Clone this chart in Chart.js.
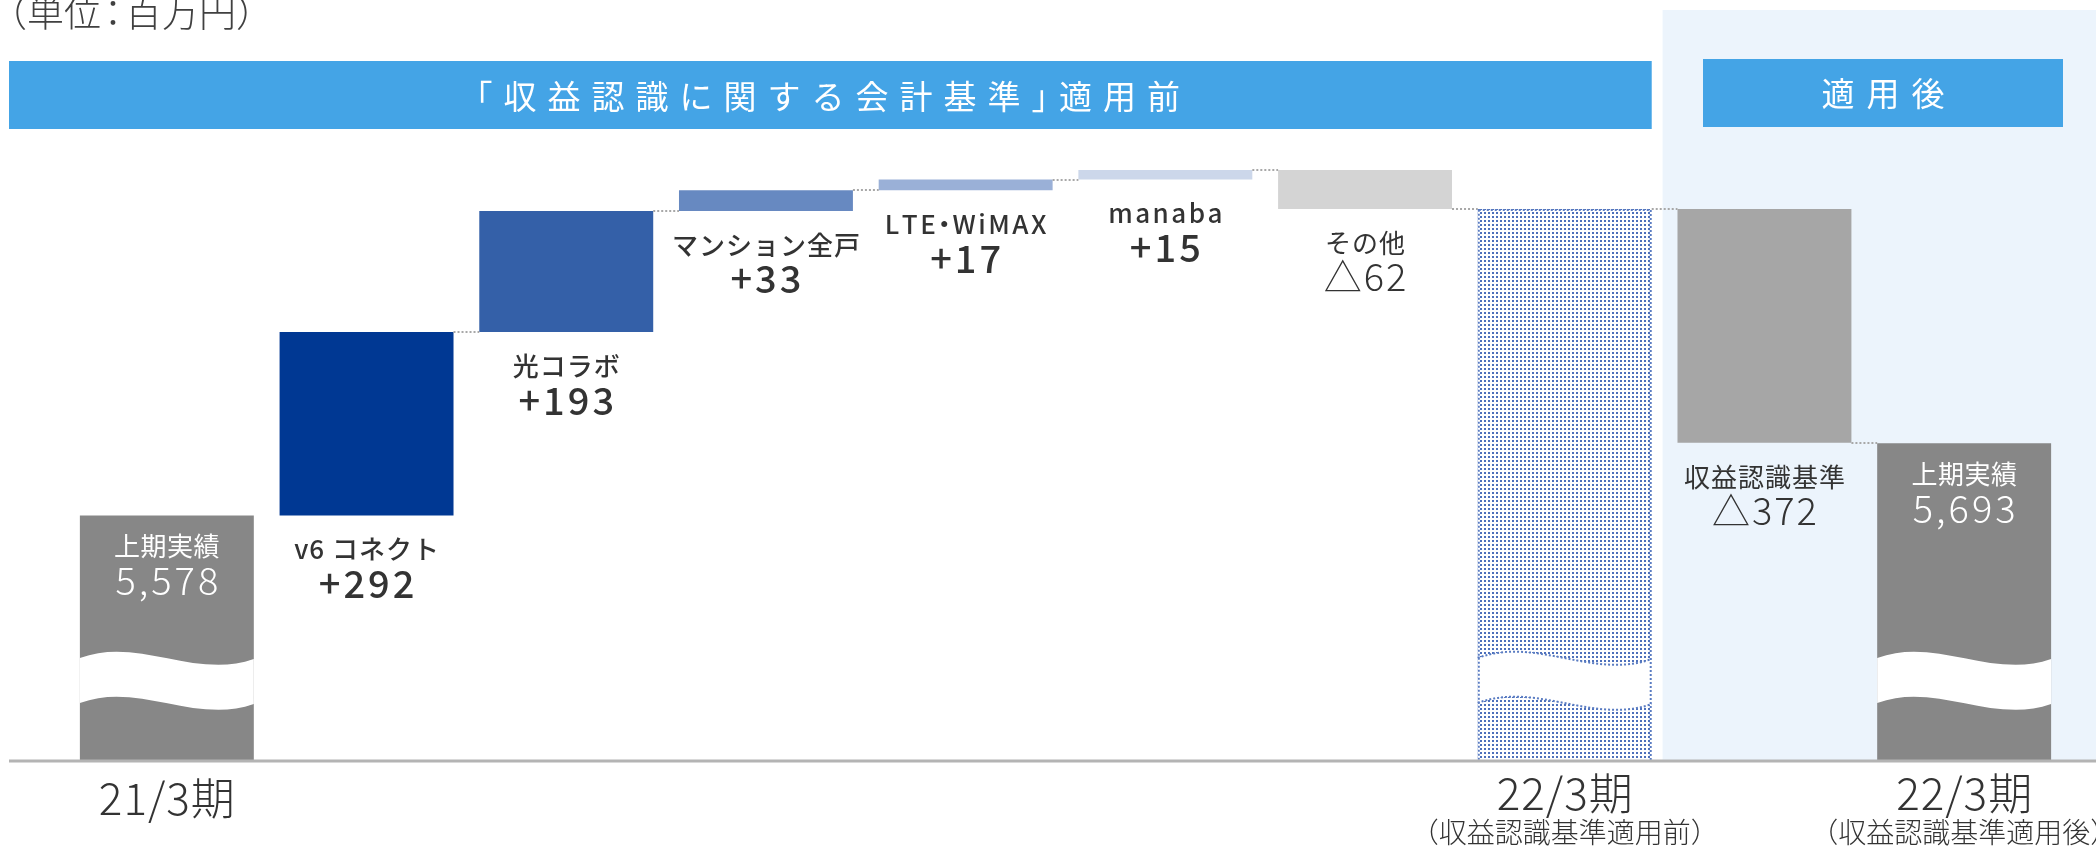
<!DOCTYPE html>
<html>
<head>
<meta charset="utf-8">
<script src="https://cdn.jsdelivr.net/npm/chart.js@4"></script>
<style>
  body { margin: 0; background: #fff; }
</style>
</head>
<body>
<canvas id="canvas" width="2096" height="848"></canvas>
<script>
// ---- data ----
const kinds = ['total', 'delta', 'delta', 'delta', 'delta', 'delta', 'delta', 'total', 'delta', 'total'];
const values = [5578, 292, 193, 33, 17, 15, -62, 6066, -372, 5693];
const barNames = ['上期実績', 'v6 コネクト', '光コラボ', 'マンション全戸', 'LTE・WiMAX', 'manaba', 'その他', '', '収益認識基準', '上期実績'];
const axisLabels = ['21/3期', '', '', '', '', '', '', '22/3期', '', '22/3期'];
const axisSubLabels = ['', '', '', '', '', '', '', '（収益認識基準適用前）', '', '（収益認識基準適用後）'];
const headerBefore = '「収益認識に関する会計基準」適用前';
const headerAfter = '適用後';
const unitLabel = '（単位：百万円）';

// value axis range (axis is broken, so it does not start at zero)
const Y_MIN = 5187;
const Y_MAX = 6160;

const FONT = '"Noto Sans CJK JP", "Noto Sans", sans-serif';
const TEXT = '#333333';

const canvas = document.getElementById('canvas');
const ctx = canvas.getContext('2d');

// dotted fill for the pre-standard total
const tile = document.createElement('canvas');
tile.width = 4; tile.height = 4;
const tctx = tile.getContext('2d');
tctx.fillStyle = '#ffffff';
tctx.fillRect(0, 0, 4, 4);
tctx.fillStyle = '#4d70bb';
tctx.fillRect(0, 0, 2, 2);
const dots = ctx.createPattern(tile, 'repeat');

const barColors = ['#878787', '#003893', '#3460a8', '#6789c1', '#9ab0d7', '#ccd7ea', '#d4d4d4', dots, '#a6a6a6', '#878787'];

// waterfall ranges and the level each bar ends on
const barData = [];
const endLevels = [];
let running = 0;
values.forEach((v, i) => {
  if (kinds[i] === 'total') {
    running = v;
    barData.push(v);
  } else {
    barData.push([running, running + v]);
    running += v;
  }
  endLevels.push(running);
});

function fmt(i) {
  const v = values[i];
  if (kinds[i] === 'total') return v.toLocaleString('en-US');
  return v > 0 ? '+' + v : '△' + Math.abs(v);
}

// [advance factor, share of trimmed width moved left]
const narrow = { '」': [0.5, 0], '「': [0.6, 1], '・': [0.45, 0.5], '：': [0.65, 0.5] };

function spaced(c, text, x0, cy, gap, align) {
  const chars = Array.from(text);
  const full = chars.map((ch) => c.measureText(ch).width);
  const adv = chars.map((ch, i) => (narrow[ch] ? full[i] * narrow[ch][0] : full[i]));
  const total = adv.reduce((a, b) => a + b, 0) + gap * (chars.length - 1);
  let x = align === 'left' ? x0 : x0 - total / 2;
  c.textAlign = 'left';
  chars.forEach((ch, i) => {
    const shift = narrow[ch] ? (full[i] - adv[i]) * narrow[ch][1] : 0;
    c.fillText(ch, x - shift, cy);
    x += adv[i] + gap;
  });
}

function waveEdge(c, left, right, y, reverse) {
  const w = right - left;
  if (!reverse) {
    c.bezierCurveTo(left + w / 3, y - 22, left + 2 * w / 3, y + 22, right, y + 1);
  } else {
    c.bezierCurveTo(left + 2 * w / 3, y + 22, left + w / 3, y - 22, left, y);
  }
}

const decor = {
  id: 'decor',
  beforeDatasetsDraw(chart) {
    const c = chart.ctx;
    const ca = chart.chartArea;
    const meta = chart.getDatasetMeta(0);
    const b7 = meta.data[7], b8 = meta.data[8];
    const split = (b7.x + b8.x) / 2;
    c.save();
    // after-standard panel
    c.fillStyle = '#ecf4fc';
    c.fillRect(split - 2, 10, chart.width - split + 2, ca.bottom - 10);
    // header bars
    const h1Right = b7.x + b7.width / 2;
    c.fillStyle = '#44a4e6';
    c.fillRect(9, 61, h1Right - 9, 68);
    c.fillRect(1703, 59, 360, 68);
    c.fillStyle = '#ffffff';
    c.textBaseline = 'middle';
    c.font = '400 33px ' + FONT;
    spaced(c, headerBefore, (9 + h1Right) / 2 - 4, 96, 11);
    spaced(c, headerAfter, 1703 + 180, 93, 12);
    // unit
    c.fillStyle = '#404040';
    c.font = '300 37px ' + FONT;
    c.textBaseline = 'alphabetic';
    spaced(c, unitLabel, -10, 27, 0, 'left');
    c.restore();
  },
  afterDatasetsDraw(chart) {
    const c = chart.ctx;
    const ca = chart.chartArea;
    const yScale = chart.scales.y;
    const meta = chart.getDatasetMeta(0);
    c.save();

    // connectors
    c.strokeStyle = '#a8a8a8';
    c.lineWidth = 2;
    c.setLineDash([2, 2]);
    for (let i = 1; i < meta.data.length - 1; i++) {
      const a = meta.data[i], b = meta.data[i + 1];
      const y = Math.round(yScale.getPixelForValue(endLevels[i]));
      c.beginPath();
      c.moveTo(a.x + a.width / 2, y);
      c.lineTo(b.x - b.width / 2, y);
      c.stroke();
    }

    // axis break waves on totals
    const y0 = ca.bottom - 103, y1 = ca.bottom - 58;
    meta.data.forEach((el, i) => {
      if (kinds[i] !== 'total') return;
      const left = el.x - el.width / 2, right = el.x + el.width / 2;
      c.setLineDash([]);
      c.fillStyle = '#ffffff';
      c.beginPath();
      c.moveTo(left, y0);
      waveEdge(c, left, right, y0, false);
      c.lineTo(right, y1 + 1);
      waveEdge(c, left, right, y1, true);
      c.closePath();
      c.fill();
      if (i === 7) {
        c.strokeStyle = '#5a7cc2';
        c.lineWidth = 2;
        c.setLineDash([2, 2]);
        c.beginPath();
        c.moveTo(left, y0);
        waveEdge(c, left, right, y0, false);
        c.moveTo(left, y1);
        waveEdge(c, left, right, y1, false);
        c.stroke();
        c.strokeRect(left + 1, el.y + 1, el.width - 2, el.base - el.y - 1);
      }
    });

    // baseline
    c.setLineDash([]);
    c.strokeStyle = '#b4b4b4';
    c.lineWidth = 3;
    c.beginPath();
    c.moveTo(9, ca.bottom);
    c.lineTo(chart.width, ca.bottom);
    c.stroke();

    // bar labels
    c.textBaseline = 'middle';
    meta.data.forEach((el, i) => {
      if (!barNames[i]) return;
      if (kinds[i] === 'total') {
        c.fillStyle = '#ffffff';
        c.font = '400 26px ' + FONT;
        spaced(c, barNames[i], el.x, el.y + 31, 0.5);
        c.font = '300 38px ' + FONT;
        spaced(c, fmt(i), el.x, el.y + 65, 3);
      } else {
        const bottom = Math.max(el.y, el.base);
        const up = values[i] > 0;
        c.fillStyle = TEXT;
        c.font = (up ? '500' : '400') + ' 26px ' + FONT;
        spaced(c, barNames[i], el.x, bottom + 34, /^[\x00-\x7f・]+$/.test(barNames[i]) ? 2.5 : 1);
        c.font = (up ? '500' : '300') + ' 38px ' + FONT;
        spaced(c, fmt(i), el.x, bottom + 68, up ? 3 : 2);
      }
    });

    // category labels
    c.fillStyle = TEXT;
    meta.data.forEach((el, i) => {
      if (!axisLabels[i]) return;
      c.font = '300 44px ' + FONT;
      spaced(c, axisLabels[i], el.x, axisSubLabels[i] ? ca.bottom + 32 : ca.bottom + 37, 1);
      if (axisSubLabels[i]) {
        c.font = '300 28px ' + FONT;
        spaced(c, axisSubLabels[i], el.x, ca.bottom + 71, 0);
      }
    });
    c.restore();
  }
};

new Chart(ctx, {
  type: 'bar',
  data: {
    labels: barNames.map((n, i) => n || axisLabels[i]),
    datasets: [{
      data: barData,
      backgroundColor: barColors,
      borderWidth: 0,
      base: Y_MIN,
      categoryPercentage: 1,
      barPercentage: 0.871
    }]
  },
  options: {
    responsive: false,
    devicePixelRatio: 1,
    animation: false,
    layout: { padding: { top: 150, bottom: 87, left: 67, right: 32 } },
    plugins: { legend: { display: false }, tooltip: { enabled: false } },
    scales: {
      x: { display: false },
      y: { display: false, min: Y_MIN, max: Y_MAX }
    }
  },
  plugins: [decor]
});
</script>
</body>
</html>
